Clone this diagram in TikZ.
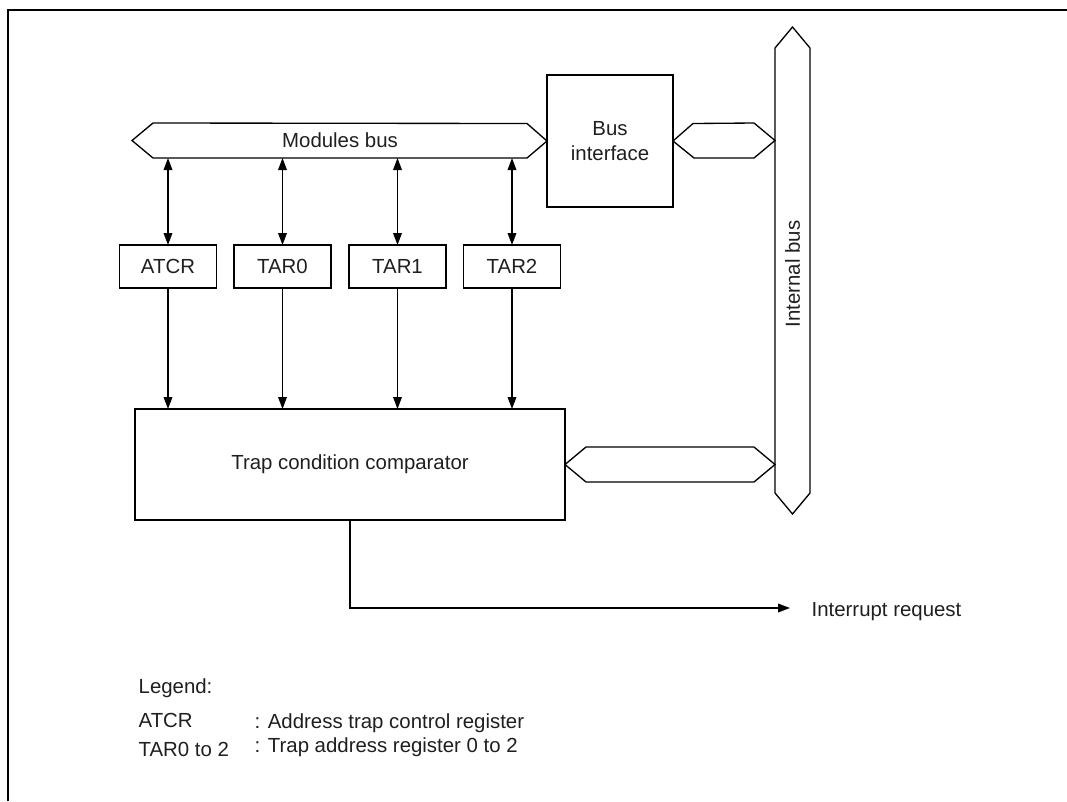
\documentclass[tikz,border=0pt]{standalone}
\usepackage{fontspec}
\setmainfont{Liberation Sans}
\usetikzlibrary{arrows.meta}
\begin{document}
\begin{tikzpicture}[x=0.75pt,y=-0.75pt,
  line width=1pt,
  every node/.style={font=\fontsize{15.3}{18.75}\selectfont, text=black!88},
  box/.style={draw, inner sep=0pt, outer sep=0pt, align=center},
  regbox/.style={box, minimum width=72.75pt, minimum height=32.25pt},
  arr/.style={-{Triangle[length=9pt,width=6.5pt]}},
  darr/.style={{Triangle[length=9pt,width=6.5pt]}-{Triangle[length=9pt,width=6.5pt]}},
  frameline/.style={line width=2.2pt}
]
\useasboundingbox (0,0) rectangle (1067,801);
% frame
\draw[frameline] (8,801) -- (8,10) -- (1067,10);

% boxes
\node[box, minimum width=94.5pt, minimum height=99pt] (busif) at (610,141) {Bus\\interface};
\node[regbox] (atcr) at (168,266.5) {ATCR};
\node[regbox] (tar0) at (282.5,266.5) {TAR0};
\node[regbox] (tar1) at (397.5,266.5) {TAR1};
\node[regbox] (tar2) at (512,266.5) {TAR2};
\node[box, minimum width=322.5pt, minimum height=83.25pt] (trap) at (350,464.5) {Trap condition comparator};

% modules bus
\draw (busif.west) -- ++(-20,-17.5) -- (153,123) -- (132,140.5) -- (153,158) -- (527,158) -- cycle;
\node (mbus) at (340,140.5) {Modules bus};
\coordinate (mbb) at (0,158);

% bus interface to internal bus
\draw (busif.east) -- ++(20,-17.5) -- (754,123) -- (775,140.5) -- (754,158) -- (694,158) -- cycle;

% internal bus
\draw (792.5,27) -- (810,48) -- (810,493) -- (792.5,514) -- (775,493) -- (775,48) -- cycle;
\node[rotate=90] (ibus) at (792.5,274) {Internal bus};

% comparator to internal bus
\draw (trap.east) -- ++(21,-17.5) -- (754,447) -- (775,464.5) -- (754,482) -- (586,482) -- cycle;

% register connections
\foreach \r in {atcr,tar0,tar1,tar2}{
  \draw[darr] (\r.north |- mbb) -- (\r.north);
  \draw[arr] (\r.south) -- (\r.south |- trap.north);
}

% interrupt request
\coordinate (irqtip) at (790,608);
\draw[arr] (trap.south) |- (irqtip);
\node[anchor=base west, inner sep=0pt] (irq) at (811,616) {Interrupt request};

% legend
\node[anchor=base west, inner sep=0pt] (leg) at (138,693) {Legend:};
\node[anchor=base west, inner sep=0pt] (lk1) at (138,727) {ATCR};
\node[anchor=base west, inner sep=0pt] (lk2) at (138,756) {TAR0 to 2};
\node[anchor=base west, inner sep=0pt] (ld1) at (254,728) {: Address trap control register};
\node[anchor=base west, inner sep=0pt] (ld2) at (254,752) {: Trap address register 0 to 2};
\end{tikzpicture}
\end{document}
